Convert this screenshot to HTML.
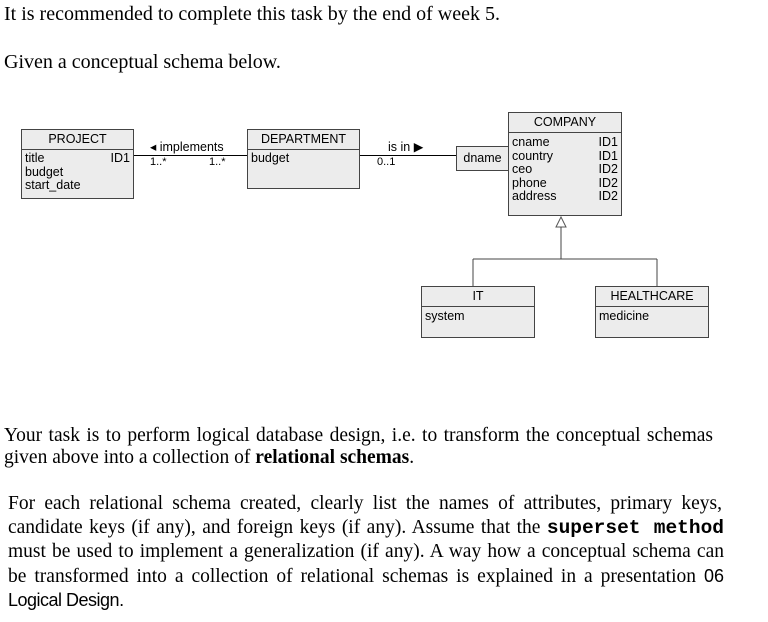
<!DOCTYPE html>
<html><head><meta charset="utf-8"><style>
body{margin:0;width:768px;height:622px;background:#fff;position:relative;overflow:hidden;font-family:"Liberation Serif",serif;color:#000}
.t{position:absolute;left:4px;font-size:20px;white-space:nowrap;line-height:22px}
.j{position:absolute;font-size:19.5px;white-space:nowrap;line-height:22px;text-align:justify;text-align-last:justify}
.box{position:absolute;border:1px solid #444;background:#ececec;font-family:"Liberation Sans",sans-serif;font-size:12.5px;box-sizing:border-box}
.hd{border-bottom:1px solid #444;text-align:center;height:19px;line-height:19px}
.row{display:flex;justify-content:space-between;padding:0 3px;line-height:13.5px}
.l{position:absolute;background:#000}
.s{position:absolute;font-family:"Liberation Sans",sans-serif;font-size:12.5px;white-space:nowrap}
code{font-family:"Liberation Mono",monospace;font-weight:bold}
</style></head><body>
<div class="t" style="top:3px">It is recommended to complete this task by the end of week 5.</div>
<div class="t" style="top:51px">Given a conceptual schema below.</div>

<div class="box" style="left:21px;top:129px;width:113px;height:70px">
<div class="hd">PROJECT</div>
<div class="row" style="padding-top:2px"><span>title</span><span>ID1</span></div>
<div class="row"><span>budget</span></div>
<div class="row"><span>start_date</span></div>
</div>
<div class="box" style="left:247px;top:129px;width:113px;height:60px">
<div class="hd">DEPARTMENT</div>
<div class="row" style="padding-top:2px"><span>budget</span></div>
</div>
<div class="l" style="left:134px;top:155px;width:113px;height:1px"></div>
<div class="s" style="left:150px;top:139px">◂ implements</div>
<div class="s" style="left:150px;top:156px;font-size:11px">1..*</div>
<div class="s" style="left:209px;top:156px;font-size:11px">1..*</div>
<div class="l" style="left:360px;top:155px;width:97px;height:1px"></div>
<div class="s" style="left:388px;top:139px">is in ▶</div>
<div class="s" style="left:377px;top:156px;font-size:11px">0..1</div>
<div class="box" style="left:456px;top:146px;width:53px;height:25px;line-height:23px;text-align:center">dname</div>
<div class="box" style="left:508px;top:112px;width:114px;height:104px">
<div class="hd">COMPANY</div>
<div class="row" style="padding-top:3px"><span>cname</span><span>ID1</span></div>
<div class="row"><span>country</span><span>ID1</span></div>
<div class="row"><span>ceo</span><span>ID2</span></div>
<div class="row"><span>phone</span><span>ID2</span></div>
<div class="row"><span>address</span><span>ID2</span></div>
</div>
<svg style="position:absolute;left:0;top:0" width="768" height="622">
<polygon points="561,217 556,227 566,227" fill="#fff" stroke="#555"/>
<path d="M561 227V259M473 259H657M473 259V286M657 259V286" stroke="#444" fill="none"/>
</svg>
<div class="box" style="left:421px;top:286px;width:114px;height:52px">
<div class="hd">IT</div>
<div class="row" style="padding-top:3px"><span>system</span></div>
</div>
<div class="box" style="left:595px;top:286px;width:114px;height:52px">
<div class="hd">HEALTHCARE</div>
<div class="row" style="padding-top:3px"><span>medicine</span></div>
</div>

<div class="j" style="left:4px;top:425px;width:709px">Your task is to perform logical database design, i.e. to transform the conceptual schemas</div>
<div class="j" style="left:4px;top:447px;text-align-last:left">given above into a collection of <b>relational schemas</b>.</div>
<div class="j" style="left:8px;top:493px;width:714px">For each relational schema created, clearly list the names of attributes, primary keys,</div>
<div class="j" style="left:8px;top:517px;width:716px">candidate keys (if any), and foreign keys (if any). Assume that the <code>superset method</code></div>
<div class="j" style="left:8px;top:541px;width:716px">must be used to implement a generalization (if any). A way how a conceptual schema can</div>
<div class="j" style="left:8px;top:565px;width:716px">be transformed into a collection of relational schemas is explained in a presentation <span style="font-family:'Liberation Sans',sans-serif;font-size:18px">06</span></div>
<div class="j" style="left:8px;top:589px;font-family:'Liberation Sans',sans-serif;font-size:18px;text-align-last:left;letter-spacing:-0.5px">Logical Design.</div>
</body></html>
